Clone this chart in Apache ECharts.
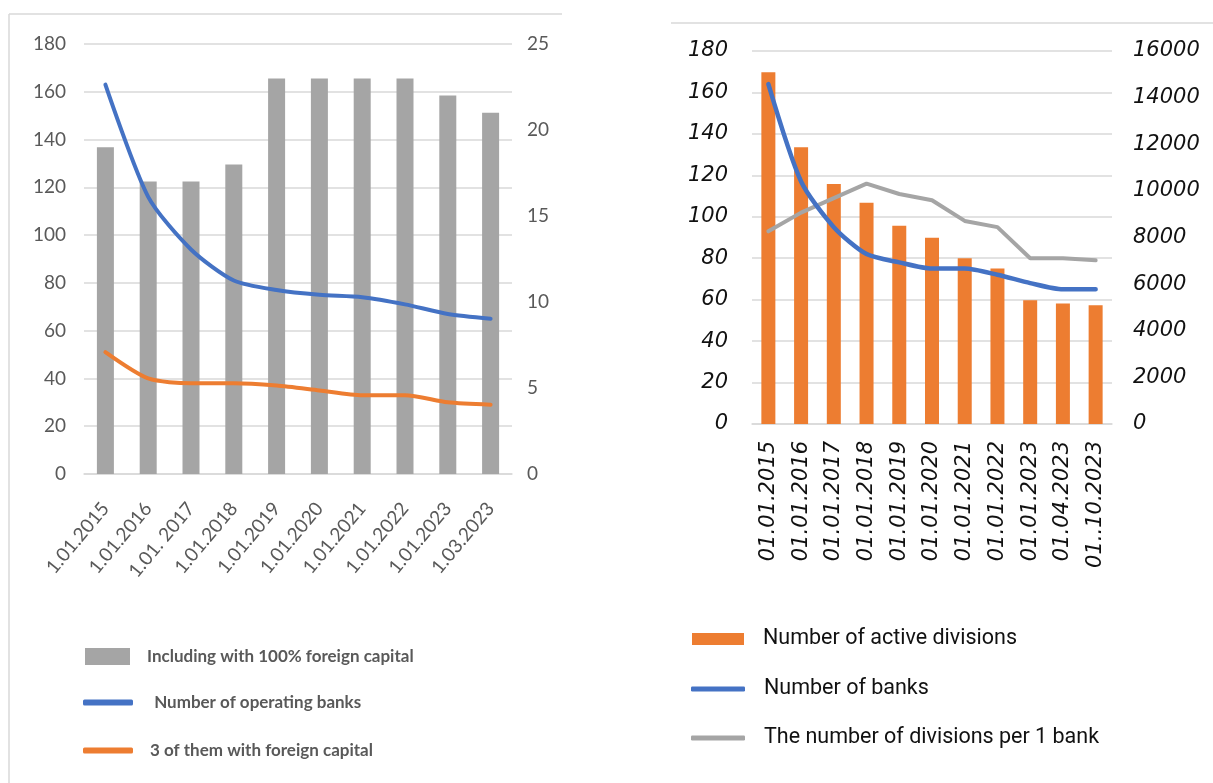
<!DOCTYPE html>
<html>
<head>
<meta charset="utf-8">
<title>Banks and divisions</title>
<script src="https://cdn.jsdelivr.net/npm/echarts@6/dist/echarts.min.js"></script>
<style>
  html, body { margin: 0; padding: 0; background: #ffffff; }
  #chart { width: 1213px; height: 783px; }
</style>
</head>
<body>
<div id="chart"></div>
<script>
// Left panel: operating banks and banks with foreign capital
const leftDates = ['1.01.2015', '1.01.2016', '1.01. 2017', '1.01.2018', '1.01.2019',
                   '1.01.2020', '1.01.2021', '1.01.2022', '1.01.2023', '1.03.2023'];
const foreign100 = [19, 17, 17, 18, 23, 23, 23, 23, 22, 21];
const operatingBanks = [163, 116, 94, 81, 77, 75, 74, 71, 67, 65];
const foreignCapital = [51, 40, 38, 38, 37, 35, 33, 33, 30, 29];

// Right panel: active divisions, banks and divisions per bank
const rightDates = ['01.01.2015', '01.01.2016', '01.01.2017', '01.01.2018', '01.01.2019',
                    '01.01.2020', '01.01.2021', '01.01.2022', '01.01.2023', '01.04.2023', '01..10.2023'];
const activeDivisions = [15090, 11870, 10300, 9490, 8500, 7990, 7110, 6670, 5310, 5170, 5090];
const banks = [164, 117, 95, 82, 78, 75, 75, 72, 68, 65, 65];
const divisionsPerBank = [93, 102, 109, 116, 111, 108, 98, 95, 80, 80, 79];

const LEFT_FONT = 'Lato';
const RIGHT_FONT = 'DejaVu Sans';
const LEGEND_FONT = 'Roboto';
const GRID_COLOR = '#d9d9d9';

const chart = echarts.init(document.getElementById('chart'), null, { renderer: 'canvas' });

const plainNumber = function (v) { return String(v); };
const leftAxisLabel = { color: '#595959', fontFamily: LEFT_FONT, fontSize: 19 };
const rightAxisLabel = { color: '#111111', fontFamily: RIGHT_FONT, fontSize: 21, fontStyle: 'italic', formatter: plainNumber };

function legendBox(name, top, left, icon, w, h, textStyle) {
  return {
    data: [{ name: name, icon: icon }],
    top: top, left: left, padding: 0,
    itemWidth: w, itemHeight: h,
    selectedMode: false,
    textStyle: textStyle
  };
}

const leftLegendText = { color: '#595959', fontFamily: LEFT_FONT, fontSize: 17, fontWeight: 'bold', padding: [0, 0, 0, 12] };
const rightLegendText = { color: '#111111', fontFamily: LEGEND_FONT, fontSize: 21.5, padding: [0, 0, 0, 14] };

chart.setOption({
  animation: false,
  backgroundColor: '#ffffff',
  graphic: [
    { type: 'line', shape: { x1: 9, y1: 14, x2: 562, y2: 14 }, style: { stroke: GRID_COLOR, lineWidth: 1.5 } },
    { type: 'line', shape: { x1: 9, y1: 14, x2: 9, y2: 783 }, style: { stroke: GRID_COLOR, lineWidth: 1.5 } },
    { type: 'line', shape: { x1: 671, y1: 23, x2: 1213, y2: 23 }, style: { stroke: GRID_COLOR, lineWidth: 1.5 } }
  ],
  legend: [
    legendBox('Including with 100% foreign capital', 648, 85, 'rect', 45, 17, leftLegendText),
    legendBox(' Number of operating banks', 694, 83, 'roundRect', 50, 6, leftLegendText),
    legendBox('3 of them with foreign capital', 742, 83, 'roundRect', 50, 6, leftLegendText),
    legendBox('Number of active divisions', 628, 692, 'rect', 52, 12, rightLegendText),
    legendBox('Number of banks', 678, 691, 'roundRect', 54, 5, rightLegendText),
    legendBox('The number of divisions per 1 bank', 727, 691, 'roundRect', 54, 5, rightLegendText)
  ],
  grid: [
    { left: 84, top: 44, width: 428, height: 430 },
    { left: 752, top: 51, width: 360, height: 373 }
  ],
  xAxis: [
    {
      gridIndex: 0, type: 'category', data: leftDates,
      axisLine: { lineStyle: { color: GRID_COLOR, width: 1.5 } },
      axisTick: { show: false },
      axisLabel: Object.assign({}, leftAxisLabel, { rotate: 50, margin: 31, interval: 0, fontSize: 19 })
    },
    {
      gridIndex: 1, type: 'category', data: rightDates,
      axisLine: { lineStyle: { color: GRID_COLOR, width: 1.5 } },
      axisTick: { show: false },
      axisLabel: Object.assign({}, rightAxisLabel, { rotate: 90, margin: 17, interval: 0, fontSize: 21, formatter: null })
    }
  ],
  yAxis: [
    {
      gridIndex: 0, type: 'value', min: 0, max: 180, interval: 20,
      axisLine: { show: false }, axisTick: { show: false },
      splitLine: { lineStyle: { color: GRID_COLOR, width: 1.5 } },
      axisLabel: Object.assign({ margin: 18 }, leftAxisLabel)
    },
    {
      gridIndex: 0, type: 'value', min: 0, max: 25, interval: 5, position: 'right',
      axisLine: { show: false }, axisTick: { show: false }, splitLine: { show: false },
      axisLabel: Object.assign({ margin: 15 }, leftAxisLabel)
    },
    {
      gridIndex: 1, type: 'value', min: 0, max: 180, interval: 20,
      axisLine: { show: false }, axisTick: { show: false },
      splitLine: { lineStyle: { color: GRID_COLOR, width: 1.5 } },
      axisLabel: Object.assign({ margin: 24 }, rightAxisLabel)
    },
    {
      gridIndex: 1, type: 'value', min: 0, max: 16000, interval: 2000, position: 'right',
      axisLine: { show: false }, axisTick: { show: false }, splitLine: { show: false },
      axisLabel: Object.assign({ margin: 21 }, rightAxisLabel)
    }
  ],
  series: [
    {
      name: 'Including with 100% foreign capital', type: 'bar',
      xAxisIndex: 0, yAxisIndex: 1, data: foreign100,
      barWidth: 17, itemStyle: { color: '#a5a5a5' }
    },
    {
      name: ' Number of operating banks', type: 'line',
      xAxisIndex: 0, yAxisIndex: 0, data: operatingBanks,
      symbol: 'none', smooth: 0.25,
      lineStyle: { color: '#4472c4', width: 4, cap: 'round' }, itemStyle: { color: '#4472c4' }
    },
    {
      name: '3 of them with foreign capital', type: 'line',
      xAxisIndex: 0, yAxisIndex: 0, data: foreignCapital,
      symbol: 'none', smooth: 0.25,
      lineStyle: { color: '#ed7d31', width: 4, cap: 'round' }, itemStyle: { color: '#ed7d31' }
    },
    {
      name: 'Number of active divisions', type: 'bar',
      xAxisIndex: 1, yAxisIndex: 3, data: activeDivisions,
      barWidth: 14, itemStyle: { color: '#ed7d31' }
    },
    {
      name: 'Number of banks', type: 'line',
      xAxisIndex: 1, yAxisIndex: 2, data: banks,
      symbol: 'none', smooth: 0.25, z: 4,
      lineStyle: { color: '#4472c4', width: 4.5, cap: 'round' }, itemStyle: { color: '#4472c4' }
    },
    {
      name: 'The number of divisions per 1 bank', type: 'line',
      xAxisIndex: 1, yAxisIndex: 2, data: divisionsPerBank,
      symbol: 'none', z: 3,
      lineStyle: { color: '#a5a5a5', width: 4, cap: 'round' }, itemStyle: { color: '#a5a5a5' }
    }
  ]
});
</script>
</body>
</html>
